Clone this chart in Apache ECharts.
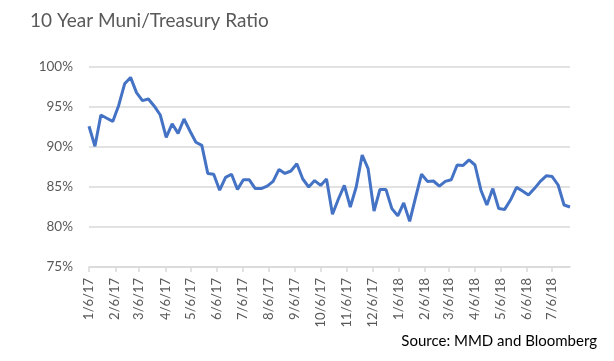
<!DOCTYPE html>
<html><head><meta charset="utf-8">
<script src="https://cdn.jsdelivr.net/npm/echarts@6/dist/echarts.min.js"></script>
<style>html,body{margin:0;padding:0;background:#fff}#c{width:614px;height:361px}</style>
</head><body><div id="c"></div>
<script>
// Weekly observations (every Friday) starting 1/6/2017
const startDate = [2017, 0, 6];
const weeklyRatio = [
  92.6, 90.1, 94.0, 93.6, 93.2, 95.2, 97.9, 98.7, 96.8, 95.8,
  96.0, 95.1, 94.0, 91.2, 92.9, 91.7, 93.5, 92.0, 90.6, 90.2,
  86.7, 86.6, 84.6, 86.2, 86.6, 84.7, 85.9, 85.9, 84.8, 84.8,
  85.1, 85.7, 87.2, 86.7, 87.0, 87.9, 86.0, 85.0, 85.8, 85.2,
  86.0, 81.6, 83.5, 85.2, 82.5, 85.0, 89.0, 87.3, 82.0, 84.7,
  84.7, 82.3, 81.4, 83.0, 80.7, 83.7, 86.6, 85.7, 85.75, 85.1,
  85.7, 85.9, 87.75, 87.7, 88.4, 87.75, 84.6, 82.75, 84.8, 82.3,
  82.2, 83.4, 84.95, 84.5, 84.0, 84.8, 85.7, 86.4, 86.3, 85.25,
  82.75, 82.5
];
const yTicks = [75, 80, 85, 90, 95, 100];
const titleText = '10 Year Muni/Treasury Ratio';
const sourceText = 'Source: MMD and Bloomberg';

// Build daily category axis so monthly ticks land on the 6th
const days = [], dayData = [];
const nDays = (weeklyRatio.length - 1) * 7 + 1;
for (let d = 0; d < nDays; d++) {
  const dt = new Date(startDate[0], startDate[1], startDate[2] + d);
  days.push((dt.getMonth() + 1) + '/' + dt.getDate() + '/' + String(dt.getFullYear()).slice(2));
  dayData.push(d % 7 === 0 ? weeklyRatio[d / 7] : null);
}
const isTickDay = (idx, val) => val.split('/')[1] === '6';

const font = 'Lato, "Open Sans", "Liberation Sans", sans-serif';
const chart = echarts.init(document.getElementById('c'), null, {renderer: 'canvas'});
chart.setOption({
  animation: false,
  title: {
    text: titleText, left: 25, top: 6,
    textStyle: {fontFamily: font, fontSize: 19, fontWeight: 'normal', color: '#595959'}
  },
  graphic: [{
    type: 'text', right: 17, top: 334,
    style: {text: sourceText, font: '15px ' + font, fill: '#000'}
  }],
  grid: {left: 89, right: 44, top: 67, bottom: 94, containLabel: false},
  xAxis: {
    type: 'category', data: days, boundaryGap: false,
    axisLine: {lineStyle: {color: '#d9d9d9', width: 1.5}},
    axisTick: {show: true, interval: isTickDay, length: 5, lineStyle: {color: '#d9d9d9', width: 1.5}},
    axisLabel: {interval: isTickDay, rotate: 90, margin: 11, fontFamily: font, fontSize: 13, color: '#595959'},
    splitLine: {show: false}
  },
  yAxis: {
    type: 'value', min: yTicks[0], max: yTicks[yTicks.length - 1], interval: 5,
    axisLine: {show: false}, axisTick: {show: false},
    axisLabel: {formatter: '{value}%', margin: 16, fontFamily: font, fontSize: 13.5, color: '#595959'},
    splitLine: {lineStyle: {color: '#d9d9d9', width: 1.5}}
  },
  series: [{
    type: 'line', data: dayData, connectNulls: true, showSymbol: false,
    lineStyle: {color: '#4472C4', width: 3}, itemStyle: {color: '#4472C4'}
  }]
});
</script>
</body></html>
